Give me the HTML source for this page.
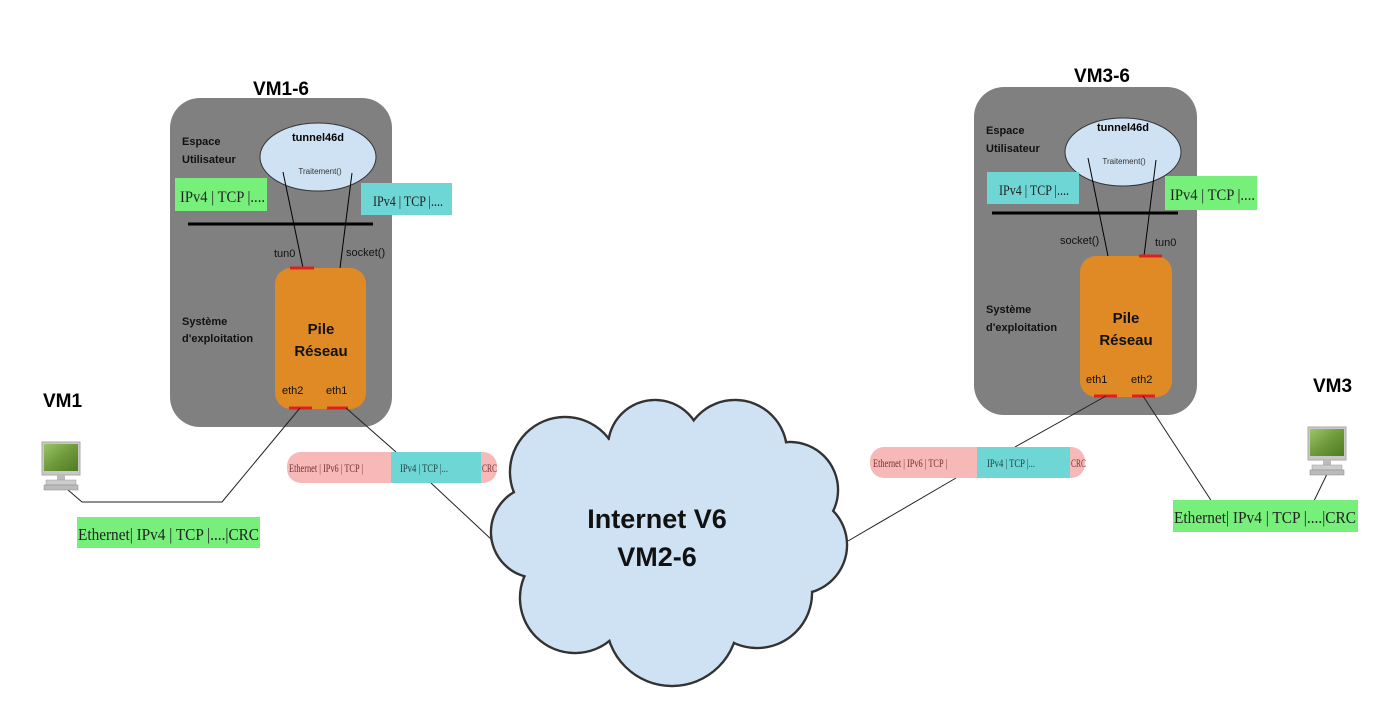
<!DOCTYPE html>
<html><head><meta charset="utf-8"><style>
html,body{margin:0;padding:0;background:#fff;}
svg{display:block;}
text{font-family:"Liberation Sans",sans-serif;}
.serif{font-family:"Liberation Serif",serif;}
</style></head><body>
<svg width="1380" height="722" viewBox="0 0 1380 722" xmlns="http://www.w3.org/2000/svg">
<defs>
<linearGradient id="scr" x1="0" y1="0" x2="1" y2="1"><stop offset="0" stop-color="#9cc46a"/><stop offset="0.5" stop-color="#6e9a3a"/><stop offset="1" stop-color="#4f7a25"/></linearGradient>
<g id="pc">
<rect x="0" y="0" width="38" height="33" fill="#c8c8c8" stroke="#aaa"/>
<rect x="2" y="2" width="34" height="27" fill="url(#scr)"/>
<rect x="15" y="33" width="8" height="5" fill="#bbb"/>
<rect x="4" y="38" width="30" height="5" fill="#ccc" stroke="#999" stroke-width="0.5"/>
<rect x="2" y="43" width="34" height="5" fill="#bbb" stroke="#888" stroke-width="0.5"/>
</g>
</defs>

<text x="281" y="95" font-size="19" font-weight="bold" text-anchor="middle">VM1-6</text>
<text x="1102" y="82" font-size="19" font-weight="bold" text-anchor="middle">VM3-6</text>
<text x="43" y="407" font-size="19" font-weight="bold">VM1</text>
<text x="1313" y="392" font-size="19" font-weight="bold">VM3</text>

<rect x="170" y="98" width="222" height="329" rx="30" fill="#808080"/>
<ellipse cx="318" cy="157" rx="58" ry="34" fill="#cfe2f3" stroke="#333" stroke-width="1"/>
<text x="318" y="141" font-size="11" font-weight="bold" text-anchor="middle">tunnel46d</text>
<text x="320" y="174" font-size="8" text-anchor="middle" fill="#333">Traitement()</text>
<text x="182" y="145" font-size="11" font-weight="bold" fill="#111">Espace</text>
<text x="182" y="163" font-size="11" font-weight="bold" fill="#111">Utilisateur</text>
<rect x="175" y="178" width="92" height="33" fill="#76f07a"/>
<text class="serif" x="180" y="202" font-size="16" fill="#222" textLength="85" lengthAdjust="spacingAndGlyphs">IPv4 | TCP |....</text>
<rect x="361" y="183" width="91" height="32" fill="#6fd6d6"/>
<text class="serif" x="373" y="206" font-size="15" fill="#222" textLength="70" lengthAdjust="spacingAndGlyphs">IPv4 | TCP |....</text>
<line x1="188" y1="224" x2="373" y2="224" stroke="#000" stroke-width="3"/>
<line x1="283" y1="172" x2="303" y2="268" stroke="#000" stroke-width="1"/>
<line x1="352" y1="173" x2="340" y2="268" stroke="#000" stroke-width="1"/>
<text x="274" y="257" font-size="11" fill="#111">tun0</text>
<text x="346" y="256" font-size="11" fill="#111">socket()</text>
<rect x="275" y="268" width="91" height="141" rx="16" fill="#e08a25"/>
<text x="182" y="325" font-size="11" font-weight="bold" fill="#111">Système</text>
<text x="182" y="342" font-size="11" font-weight="bold" fill="#111">d'exploitation</text>
<text x="321" y="334" font-size="15" font-weight="bold" text-anchor="middle" fill="#111">Pile</text>
<text x="321" y="356" font-size="15" font-weight="bold" text-anchor="middle" fill="#111">Réseau</text>
<text x="282" y="394" font-size="11" fill="#111">eth2</text>
<text x="326" y="394" font-size="11" fill="#111">eth1</text>
<line x1="290" y1="268" x2="314" y2="268" stroke="#e02020" stroke-width="3"/>
<line x1="289" y1="408" x2="312" y2="408" stroke="#e02020" stroke-width="3"/>
<line x1="327" y1="408" x2="348" y2="408" stroke="#e02020" stroke-width="3"/>

<rect x="974" y="87" width="223" height="328" rx="30" fill="#808080"/>
<ellipse cx="1123" cy="152" rx="58" ry="34" fill="#cfe2f3" stroke="#333" stroke-width="1"/>
<text x="1123" y="131" font-size="11" font-weight="bold" text-anchor="middle">tunnel46d</text>
<text x="1124" y="164" font-size="8" text-anchor="middle" fill="#333">Traitement()</text>
<text x="986" y="134" font-size="11" font-weight="bold" fill="#111">Espace</text>
<text x="986" y="152" font-size="11" font-weight="bold" fill="#111">Utilisateur</text>
<rect x="987" y="172" width="92" height="32" fill="#6fd6d6"/>
<text class="serif" x="999" y="195" font-size="15" fill="#222" textLength="70" lengthAdjust="spacingAndGlyphs">IPv4 | TCP |....</text>
<rect x="1165" y="176" width="92" height="34" fill="#76f07a"/>
<text class="serif" x="1170" y="200" font-size="16" fill="#222" textLength="85" lengthAdjust="spacingAndGlyphs">IPv4 | TCP |....</text>
<line x1="992" y1="213" x2="1178" y2="213" stroke="#000" stroke-width="3"/>
<line x1="1088" y1="158" x2="1108" y2="256" stroke="#000" stroke-width="1"/>
<line x1="1156" y1="160" x2="1144" y2="256" stroke="#000" stroke-width="1"/>
<text x="1060" y="244" font-size="11" fill="#111">socket()</text>
<text x="1155" y="246" font-size="11" fill="#111">tun0</text>
<rect x="1080" y="256" width="92" height="141" rx="16" fill="#e08a25"/>
<text x="986" y="313" font-size="11" font-weight="bold" fill="#111">Système</text>
<text x="986" y="331" font-size="11" font-weight="bold" fill="#111">d'exploitation</text>
<text x="1126" y="323" font-size="15" font-weight="bold" text-anchor="middle" fill="#111">Pile</text>
<text x="1126" y="345" font-size="15" font-weight="bold" text-anchor="middle" fill="#111">Réseau</text>
<text x="1086" y="383" font-size="11" fill="#111">eth1</text>
<text x="1131" y="383" font-size="11" fill="#111">eth2</text>
<line x1="1139" y1="256" x2="1162" y2="256" stroke="#e02020" stroke-width="3"/>
<line x1="1094" y1="396" x2="1117" y2="396" stroke="#e02020" stroke-width="3"/>
<line x1="1132" y1="396" x2="1155" y2="396" stroke="#e02020" stroke-width="3"/>

<polyline points="300,408 222,502 82,502 68,490" fill="none" stroke="#222" stroke-width="1"/>
<line x1="346" y1="408" x2="396" y2="452" stroke="#222" stroke-width="1"/>
<line x1="431" y1="483" x2="492" y2="540" stroke="#222" stroke-width="1"/>
<polyline points="1143,396 1216,508 1313,503 1328,472" fill="none" stroke="#222" stroke-width="1"/>
<line x1="1106" y1="396" x2="1015" y2="447" stroke="#222" stroke-width="1"/>
<line x1="956" y1="478" x2="848" y2="541" stroke="#222" stroke-width="1"/>

<rect x="287" y="452" width="210" height="31" rx="14" fill="#f7b8b8"/>
<rect x="391" y="452" width="90" height="31" fill="#6fd6d6"/>
<text class="serif" x="289" y="472" font-size="12" fill="#733" textLength="74" lengthAdjust="spacingAndGlyphs">Ethernet | IPv6 | TCP |</text>
<text class="serif" x="400" y="472" font-size="12" fill="#244" textLength="48" lengthAdjust="spacingAndGlyphs">IPv4 | TCP |...</text>
<text class="serif" x="482" y="472" font-size="12" fill="#733" textLength="15" lengthAdjust="spacingAndGlyphs">CRC</text>

<rect x="870" y="447" width="215" height="31" rx="14" fill="#f7b8b8"/>
<rect x="977" y="447" width="93" height="31" fill="#6fd6d6"/>
<text class="serif" x="873" y="467" font-size="12" fill="#733" textLength="74" lengthAdjust="spacingAndGlyphs">Ethernet | IPv6 | TCP |</text>
<text class="serif" x="987" y="467" font-size="12" fill="#244" textLength="48" lengthAdjust="spacingAndGlyphs">IPv4 | TCP |...</text>
<text class="serif" x="1071" y="467" font-size="12" fill="#733" textLength="15" lengthAdjust="spacingAndGlyphs">CRC</text>

<rect x="77" y="517" width="183" height="31" fill="#76f07a"/>
<text class="serif" x="78" y="540" font-size="17" fill="#222" textLength="181" lengthAdjust="spacingAndGlyphs">Ethernet| IPv4 | TCP |....|CRC</text>
<rect x="1173" y="500" width="185" height="32" fill="#76f07a"/>
<text class="serif" x="1174" y="523" font-size="17" fill="#222" textLength="182" lengthAdjust="spacingAndGlyphs">Ethernet| IPv4 | TCP |....|CRC</text>

<use href="#pc" x="42" y="442"/>
<use href="#pc" x="1308" y="427"/>

<g stroke="#333" stroke-width="2.5" fill="#cfe2f3">
<circle cx="565" cy="472" r="55"/>
<circle cx="655" cy="447" r="47"/>
<circle cx="735" cy="452" r="52"/>
<circle cx="790" cy="490" r="48"/>
<circle cx="798" cy="545" r="49"/>
<circle cx="757" cy="593" r="55"/>
<circle cx="672" cy="620" r="66"/>
<circle cx="575" cy="598" r="55"/>
<circle cx="537" cy="532" r="46"/>
</g>
<g fill="#cfe2f3">
<circle cx="565" cy="472" r="53.8"/>
<circle cx="655" cy="447" r="45.8"/>
<circle cx="735" cy="452" r="50.8"/>
<circle cx="790" cy="490" r="46.8"/>
<circle cx="798" cy="545" r="47.8"/>
<circle cx="757" cy="593" r="53.8"/>
<circle cx="672" cy="620" r="64.8"/>
<circle cx="575" cy="598" r="53.8"/>
<circle cx="537" cy="532" r="44.8"/>
<circle cx="665" cy="535" r="110"/>
</g>
<text x="657" y="528" font-size="27" font-weight="bold" text-anchor="middle" fill="#111">Internet V6</text>
<text x="657" y="566" font-size="27" font-weight="bold" text-anchor="middle" fill="#111">VM2-6</text>
</svg>
</body></html>
